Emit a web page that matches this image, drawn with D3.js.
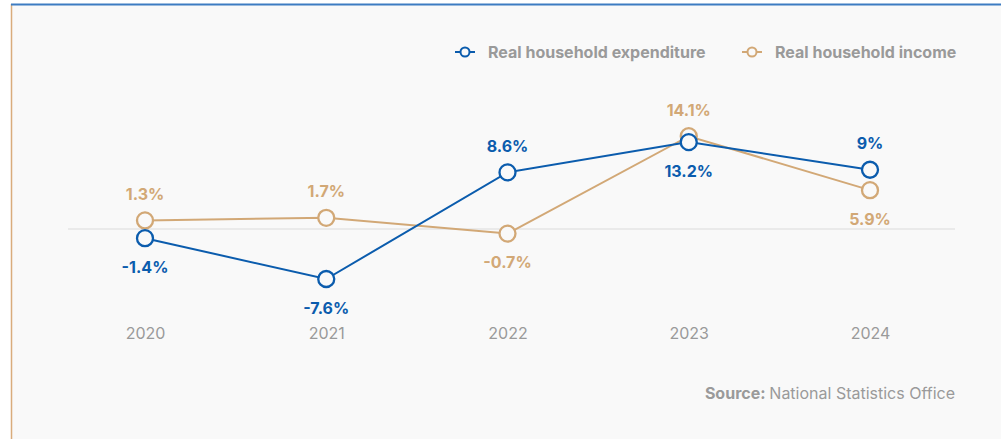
<!DOCTYPE html>
<html>
<head>
<meta charset="utf-8">
<script src="https://cdn.jsdelivr.net/npm/d3@7"></script>
<style>
  html, body { margin: 0; padding: 0; background: #ffffff; }
  svg { display: block; font-family: Inter, "Noto Sans", sans-serif; }
</style>
</head>
<body>
<svg id="chart" width="1001" height="439"></svg>
<script>
// Annual change, percent
const years = ["2020", "2021", "2022", "2023", "2024"];
const expenditure = [-1.4, -7.6, 8.6, 13.2, 9];
const income = [1.3, 1.7, -0.7, 14.1, 5.9];
// label placement relative to the point: "above" or "below"
const expenditurePos = ["below", "below", "above", "below", "above"];
const incomePos = ["above", "above", "below", "above", "below"];

const seriesNames = ["Real household expenditure", "Real household income"];
const colors = ["#0b5cad", "#d2a876"];
const sourceLabel = "Source:";
const sourceText = "National Statistics Office";

const W = 1001, H = 439;
const svg = d3.select("#chart");

// panel background and frame
svg.append("rect").attr("x", 11).attr("y", 4).attr("width", W - 11).attr("height", H - 4)
  .attr("fill", "#f9f9f9");
svg.append("line").attr("x1", 11.5).attr("x2", 11.5).attr("y1", 4).attr("y2", H)
  .attr("stroke", "#d9ac7c").attr("stroke-width", 1.5);
svg.append("line").attr("x1", 11).attr("x2", W).attr("y1", 4.5).attr("y2", 4.5)
  .attr("stroke", "#3d7cc2").attr("stroke-width", 2);

const x = d3.scalePoint().domain(years).range([145, 870]);
const y = d3.scaleLinear().domain([-10, 16]).range([229 + 65.8, 229 - 105.3]);

// zero line
svg.append("line")
  .attr("x1", 68).attr("x2", 955)
  .attr("y1", y(0)).attr("y2", y(0))
  .attr("stroke", "#dcdcdc").attr("stroke-width", 1.2);

// year axis
const xAxis = svg.append("g").attr("transform", "translate(0,333)")
  .call(d3.axisBottom(x).tickSize(0).tickPadding(0));
xAxis.select(".domain").remove();
xAxis.selectAll("text")
  .attr("dy", "0.35em")
  .attr("fill", "#9a9a9a")
  .style("font-size", "16px")
  .style("font-family", "Inter, sans-serif");

const line = d3.line().x((d, i) => x(years[i])).y(d => y(d));

function drawSeries(values, positions, color) {
  const g = svg.append("g");
  g.append("path").datum(values)
    .attr("d", line)
    .attr("fill", "none")
    .attr("stroke", color)
    .attr("stroke-width", 2);
  g.selectAll("circle").data(values).join("circle")
    .attr("cx", (d, i) => x(years[i]))
    .attr("cy", d => y(d))
    .attr("r", 8)
    .attr("fill", "#f9f9f9")
    .attr("stroke", color)
    .attr("stroke-width", 2.3);
  g.selectAll("text").data(values).join("text")
    .attr("x", (d, i) => x(years[i]))
    .attr("y", (d, i) => y(d) + (positions[i] === "above" ? -26 : 29))
    .attr("dy", "0.35em")
    .attr("text-anchor", "middle")
    .attr("fill", color)
    .style("font-size", "16px")
    .style("font-weight", 700)
    .text(d => d + "%");
}

drawSeries(income, incomePos, colors[1]);
drawSeries(expenditure, expenditurePos, colors[0]);

// legend
const legendX = [455, 742];
seriesNames.forEach((name, i) => {
  const lg = svg.append("g").attr("transform", `translate(${legendX[i]},52)`);
  lg.append("line").attr("x1", 0).attr("x2", 20).attr("y1", 0).attr("y2", 0)
    .attr("stroke", colors[i]).attr("stroke-width", 2);
  lg.append("circle").attr("cx", 10).attr("cy", 0).attr("r", 4.5)
    .attr("fill", "#f9f9f9").attr("stroke", colors[i]).attr("stroke-width", 2);
  lg.append("text").attr("x", 33).attr("y", 0).attr("dy", "0.35em")
    .attr("fill", "#9a9a9a")
    .style("font-size", "16px").style("font-weight", 700)
    .text(name);
});

// source note
const src = svg.append("text")
  .attr("x", 955).attr("y", 393).attr("dy", "0.35em")
  .attr("text-anchor", "end")
  .attr("fill", "#9a9a9a")
  .style("font-size", "16px");
src.append("tspan").style("font-weight", 700).text(sourceLabel + " ");
src.append("tspan").text(sourceText);
</script>
</body>
</html>
